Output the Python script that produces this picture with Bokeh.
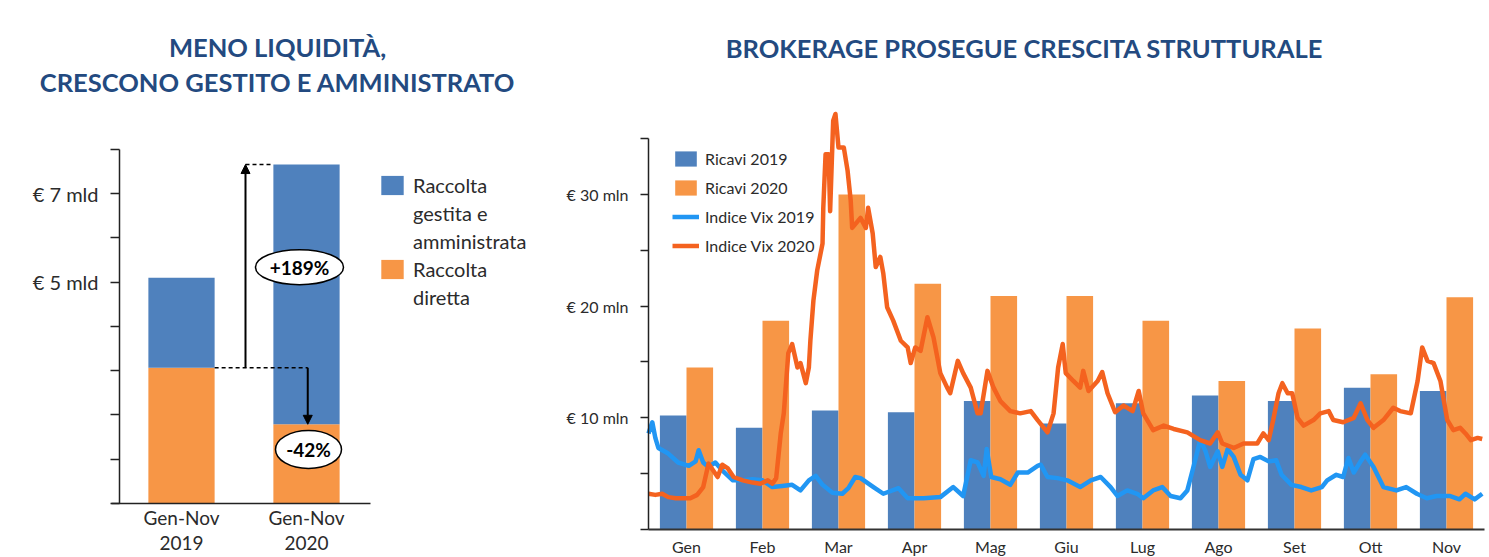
from bokeh.plotting import figure
from bokeh.layouts import row
from bokeh.models import (Range1d, FixedTicker, Legend, LegendItem, Arrow, Label,
                          NormalHead, ColumnDataSource)
from bokeh.embed import file_html
from bokeh.resources import INLINE
from bokeh.core.properties import value

FONT = "Lato"
TITLE_COLOR = "#234a80"
BLUE_BAR = "#4f81bd"
ORANGE_BAR = "#f79646"
BLUE_LINE = "#2196f3"
ORANGE_LINE = "#f4621f"
TEXT_COLOR = "#2b2b2b"

# ---------------- left chart data (EUR mld) ----------------
periods = ["Gen-Nov\n2019", "Gen-Nov\n2020"]
raccolta_diretta = [3.07, 1.79]
raccolta_gestita = [2.03, 5.87]
variazioni = ["+189%", "-42%"]

# ---------------- right chart data ----------------
months = ["Gen", "Feb", "Mar", "Apr", "Mag", "Giu", "Lug", "Ago", "Set", "Ott", "Nov"]
ricavi_2019 = [10.2, 9.1, 10.65, 10.5, 11.5, 9.5, 11.3, 12.0, 11.5, 12.7, 12.4]
ricavi_2020 = [14.5, 18.7, 30.0, 22.0, 20.9, 20.9, 18.7, 13.3, 18.0, 13.9, 20.8]

# Indice VIX, time in months from 1 Jan, value on the chart scale
vix2020_t = [0.00, 0.09, 0.18, 0.26, 0.36, 0.45, 0.55, 0.64, 0.72, 0.79, 0.84, 0.91, 0.97,
             1.04, 1.12, 1.24, 1.37, 1.47, 1.57, 1.63, 1.68, 1.74, 1.78, 1.84, 1.89, 1.96,
             2.00, 2.07, 2.11, 2.13, 2.17, 2.22, 2.29, 2.30, 2.33, 2.37, 2.39, 2.43, 2.46,
             2.50, 2.57, 2.62, 2.66, 2.68, 2.79, 2.86, 2.89, 2.95, 2.99, 3.05, 3.09, 3.14,
             3.22, 3.32, 3.41, 3.45, 3.51, 3.58, 3.67, 3.75, 3.84, 3.93, 3.97, 4.07, 4.14,
             4.24, 4.33, 4.37, 4.46, 4.54, 4.63, 4.76, 4.89, 5.03, 5.12, 5.25, 5.33, 5.39,
             5.45, 5.49, 5.59, 5.68, 5.72, 5.79, 5.91, 5.97, 6.04, 6.14, 6.25, 6.37, 6.45,
             6.51, 6.64, 6.78, 6.91, 7.09, 7.26, 7.39, 7.49, 7.55, 7.70, 7.83, 8.01, 8.09,
             8.16, 8.22, 8.29, 8.34, 8.41, 8.47, 8.54, 8.62, 8.75, 8.84, 8.95, 9.01, 9.14,
             9.28, 9.37, 9.46, 9.54, 9.67, 9.80, 9.89, 10.03, 10.12, 10.18, 10.25, 10.33,
             10.42, 10.51, 10.59, 10.68, 10.75, 10.82, 10.91, 10.97]
vix2020_v = [3.2, 3.1, 3.2, 2.9, 2.8, 2.8, 2.8, 3.1, 3.8, 5.9, 5.4, 4.7, 5.8,
             5.5, 4.7, 4.4, 4.2, 4.1, 4.4, 4.1, 4.6, 8.6, 10.4, 15.8, 16.6, 14.5,
             14.9, 13.1, 14.5, 16.9, 20.5, 23.2, 25.6, 28.8, 33.6, 33.6, 28.5, 36.6, 37.2,
             34.2, 34.2, 32.1, 29.5, 27.0, 27.9, 27.0, 28.8, 26.5, 23.5, 24.4, 22.9, 19.9,
             18.7, 16.9, 16.3, 14.9, 16.3, 16.0, 19.0, 17.2, 14.0, 12.7, 12.2, 15.1, 14.0,
             12.7, 10.4, 10.4, 14.2, 12.7, 11.5, 10.6, 10.4, 10.6, 9.8, 8.7, 10.4, 14.5,
             16.6, 14.0, 13.3, 12.7, 14.2, 12.4, 13.3, 14.1, 12.2, 10.5, 11.1, 10.6, 12.4,
             10.4, 8.9, 9.3, 9.0, 8.7, 8.0, 7.7, 8.7, 7.7, 7.3, 7.7, 7.7, 8.6,
             8.0, 9.8, 12.2, 13.1, 12.2, 12.2, 10.0, 9.3, 9.8, 10.4, 10.6, 9.8, 9.6,
             10.0, 11.3, 9.8, 9.1, 9.8, 10.9, 10.6, 10.4, 13.3, 16.3, 15.1, 14.9,
             13.3, 9.8, 8.9, 9.1, 8.6, 8.0, 8.2, 8.1]

vix2019_t = [0.00, 0.05, 0.09, 0.13, 0.26, 0.39, 0.53, 0.62, 0.66, 0.72, 0.79, 0.88, 0.97,
             1.11, 1.24, 1.37, 1.50, 1.63, 1.76, 1.89, 2.00, 2.11, 2.20, 2.29, 2.42, 2.55,
             2.63, 2.72, 2.79, 2.96, 3.09, 3.29, 3.41, 3.62, 3.84, 4.01, 4.14, 4.24, 4.33,
             4.41, 4.45, 4.51, 4.63, 4.76, 4.86, 4.99, 5.12, 5.16, 5.25, 5.38, 5.51, 5.68,
             5.82, 5.95, 6.08, 6.17, 6.30, 6.43, 6.51, 6.64, 6.76, 6.87, 7.00, 7.09, 7.17,
             7.26, 7.33, 7.39, 7.49, 7.55, 7.62, 7.70, 7.79, 7.88, 7.96, 8.05, 8.16, 8.26,
             8.33, 8.46, 8.59, 8.72, 8.86, 8.93, 9.05, 9.14, 9.21, 9.28, 9.37, 9.43, 9.54,
             9.67, 9.84, 9.97, 10.11, 10.24, 10.37, 10.54, 10.67, 10.75, 10.87, 10.97]
vix2019_v = [8.6, 9.6, 8.2, 7.3, 6.8, 6.0, 5.7, 6.1, 7.1, 6.0, 5.6, 6.0, 5.3,
             4.4, 4.4, 4.5, 4.4, 3.8, 3.9, 4.0, 3.5, 4.4, 4.8, 4.0, 3.3, 3.2,
             3.7, 4.7, 4.6, 3.8, 3.2, 3.7, 2.8, 2.8, 2.9, 3.8, 3.0, 6.2, 6.0,
             4.8, 7.2, 4.7, 4.5, 4.0, 5.1, 5.1, 5.7, 5.8, 4.7, 4.6, 4.4, 3.8,
             4.4, 4.7, 3.8, 3.0, 3.5, 3.2, 2.8, 3.5, 3.8, 3.0, 2.8, 3.5, 5.6,
             8.0, 7.0, 5.6, 7.0, 5.6, 7.2, 6.5, 4.9, 4.4, 6.3, 6.5, 6.1, 6.2,
             4.9, 4.0, 3.8, 3.5, 3.8, 4.4, 4.9, 4.7, 6.4, 5.1, 6.1, 6.7, 5.6,
             3.8, 3.5, 3.8, 3.2, 2.8, 3.0, 3.0, 2.7, 3.2, 2.7, 3.2]

FIG_H = 556


def style_axis(ax, size):
    ax.axis_line_color = "#222222"
    ax.major_tick_line_color = "#222222"
    ax.minor_tick_line_color = None
    ax.major_label_text_font = FONT
    ax.major_label_text_font_size = size
    ax.major_label_text_color = TEXT_COLOR


def title_label(x, y, text):
    return Label(x=x, y=y, text=text, text_align="center", text_baseline="middle",
                 text_font=FONT, text_font_style="bold", text_font_size="25.5px",
                 text_color=TITLE_COLOR)


# =============== LEFT CHART ===============
bar_w = 0.53
x_idx = [0, 1]
totals = [d + g for d, g in zip(raccolta_diretta, raccolta_gestita)]

left = figure(width=554, height=FIG_H, x_range=Range1d(-1.448, 2.984), y_range=Range1d(-1.198, 11.367),
              output_backend="svg", toolbar_location=None,
              min_border_left=0, min_border_right=0, min_border_top=0, min_border_bottom=0)
left.outline_line_color = None
left.grid.grid_line_color = None

src_l = ColumnDataSource(dict(x=x_idx, diretta=raccolta_diretta, gestita=raccolta_gestita))
r_dir, r_ges = left.vbar_stack(["diretta", "gestita"], x="x", width=bar_w, source=src_l,
                               color=[ORANGE_BAR, BLUE_BAR], line_color=None)

style_axis(left.xaxis[0], "19px")
left.xaxis.ticker = FixedTicker(ticks=x_idx)
left.xaxis.major_label_overrides = {i: periods[i] for i in x_idx}
left.xaxis.major_tick_line_color = None
left.xaxis.major_tick_out = 0
left.xaxis.major_tick_in = 0
left.xaxis.major_label_standoff = 3
left.xaxis.major_label_text_line_height = 1.05
left.xaxis.axis_line_width = 1.5
left.xaxis.fixed_location = 0
left.xaxis.bounds = (-0.56, 1.512)

ylabels = {i: "" for i in range(9)}
ylabels[5] = "€ 5 mld"
ylabels[7] = "€ 7 mld"
style_axis(left.yaxis[0], "20px")
left.yaxis.ticker = FixedTicker(ticks=list(range(9)))
left.yaxis.major_label_overrides = ylabels
left.yaxis.bounds = (0, 8)
left.yaxis.fixed_location = -0.496
left.yaxis.major_tick_out = 9
left.yaxis.major_tick_in = 0
left.yaxis.axis_line_width = 1.5
left.yaxis.major_tick_line_width = 1.5
left.yaxis.major_label_standoff = 12

# dashed guides and arrows
arrow_x = 0.512
left.segment(x0=[x_idx[0] + bar_w / 2, arrow_x], y0=[raccolta_diretta[0], totals[1]],
             x1=[x_idx[1] + 0.01, x_idx[1] - bar_w / 2], y1=[raccolta_diretta[0], totals[1]],
             line_color="black", line_width=1.5, line_dash="4 3")
left.add_layout(Arrow(end=NormalHead(size=9, fill_color="black", line_color="black"),
                      x_start=arrow_x, y_start=raccolta_diretta[0], x_end=arrow_x, y_end=totals[1],
                      line_width=2, line_color="black"))
left.add_layout(Arrow(end=NormalHead(size=9, fill_color="black", line_color="black"),
                      x_start=x_idx[1] + 0.01, y_start=raccolta_diretta[0], x_end=x_idx[1] + 0.01,
                      y_end=raccolta_diretta[1], line_width=2, line_color="black"))
ell = ColumnDataSource(dict(x=[0.944, 1.016], y=[5.34, 1.22], w=[88, 66], h=[35, 38], t=variazioni))
left.ellipse(x="x", y="y", width="w", height="h", width_units="screen", height_units="screen",
             source=ell, fill_color="white", line_color="black", line_width=1.5)
left.text(x="x", y="y", text="t", source=ell, text_align="center", text_baseline="middle",
          text_font=value(FONT), text_font_style="bold", text_font_size="19px", text_color="black")

# invisible swatch for the continuation lines of the legend labels
blank = left.vbar(x=[], top=[], width=0.1, fill_alpha=0, line_alpha=0)
leg_l = Legend(items=[LegendItem(label="Raccolta", renderers=[r_ges]),
                      LegendItem(label="gestita e", renderers=[blank]),
                      LegendItem(label="amministrata", renderers=[blank]),
                      LegendItem(label="Raccolta", renderers=[r_dir]),
                      LegendItem(label="diretta", renderers=[blank])],
               location=(378, 247), glyph_width=28, glyph_height=24, label_height=24, spacing=4,
               padding=0, margin=0, label_text_font=FONT, label_text_font_size="20px",
               label_text_color=TEXT_COLOR, label_standoff=7, border_line_color=None,
               background_fill_alpha=0)
left.add_layout(leg_l)

left.add_layout(title_label(0.768, 10.305, "MENO LIQUIDITÀ,"))
left.add_layout(title_label(0.768, 9.514, "CRESCONO GESTITO E AMMINISTRATO"))

# =============== RIGHT CHART ===============
xc = [i + 0.5 for i in range(len(months))]
right = figure(width=934, height=FIG_H, x_range=Range1d(-1.2368, 11.0527), y_range=Range1d(-2.417, 47.36),
               output_backend="svg", toolbar_location=None,
               min_border_left=0, min_border_right=0, min_border_top=0, min_border_bottom=0)
right.outline_line_color = None
right.grid.grid_line_color = None

bw = 0.35
src_r = ColumnDataSource(dict(x19=[x - bw / 2 for x in xc], x20=[x + bw / 2 for x in xc],
                              r19=ricavi_2019, r20=ricavi_2020))
b19 = right.vbar(x="x19", top="r19", width=bw, source=src_r, color=BLUE_BAR, line_color=None)
b20 = right.vbar(x="x20", top="r20", width=bw, source=src_r, color=ORANGE_BAR, line_color=None)
l19 = right.line(vix2019_t, vix2019_v, line_color=BLUE_LINE, line_width=4.5, line_join="round")
l20 = right.line(vix2020_t, vix2020_v, line_color=ORANGE_LINE, line_width=4.5, line_join="round")

style_axis(right.xaxis[0], "16px")
right.xaxis.ticker = FixedTicker(ticks=xc)
right.xaxis.major_label_overrides = {x: m for x, m in zip(xc, months)}
right.xaxis.major_tick_line_color = None
right.xaxis.major_tick_out = 0
right.xaxis.major_tick_in = 0
right.xaxis.major_label_standoff = 7
right.xaxis.axis_line_width = 2
right.xaxis.axis_line_color = "#333333"
right.xaxis.fixed_location = 0
right.xaxis.bounds = (0, 11)

ry = {v: "" for v in range(0, 40, 5)}
ry[10] = "€ 10 mln"
ry[20] = "€ 20 mln"
ry[30] = "€ 30 mln"
style_axis(right.yaxis[0], "16px")
right.yaxis.ticker = FixedTicker(ticks=list(range(0, 40, 5)))
right.yaxis.major_label_overrides = ry
right.yaxis.bounds = (0, 35)
right.yaxis.fixed_location = 0
right.yaxis.major_tick_out = 8
right.yaxis.major_tick_in = 0
right.yaxis.axis_line_width = 1.5
right.yaxis.major_tick_line_width = 1.5
right.yaxis.major_label_standoff = 12

leg_r = Legend(items=[LegendItem(label="Ricavi 2019", renderers=[b19]),
                      LegendItem(label="Ricavi 2020", renderers=[b20]),
                      LegendItem(label="Indice Vix 2019", renderers=[l19]),
                      LegendItem(label="Indice Vix 2020", renderers=[l20])],
               location=(118, 300), glyph_width=27, glyph_height=19, label_height=21, spacing=8,
               padding=0, margin=0, label_text_font=FONT, label_text_font_size="16px",
               label_text_color=TEXT_COLOR, label_standoff=6, border_line_color=None,
               background_fill_alpha=0)
right.add_layout(leg_r)

right.add_layout(title_label(4.947, 43.15, "BROKERAGE PROSEGUE CRESCITA STRUTTURALE"))

layout = row(left, right)
open("out.html", "w").write(file_html(layout, INLINE))
